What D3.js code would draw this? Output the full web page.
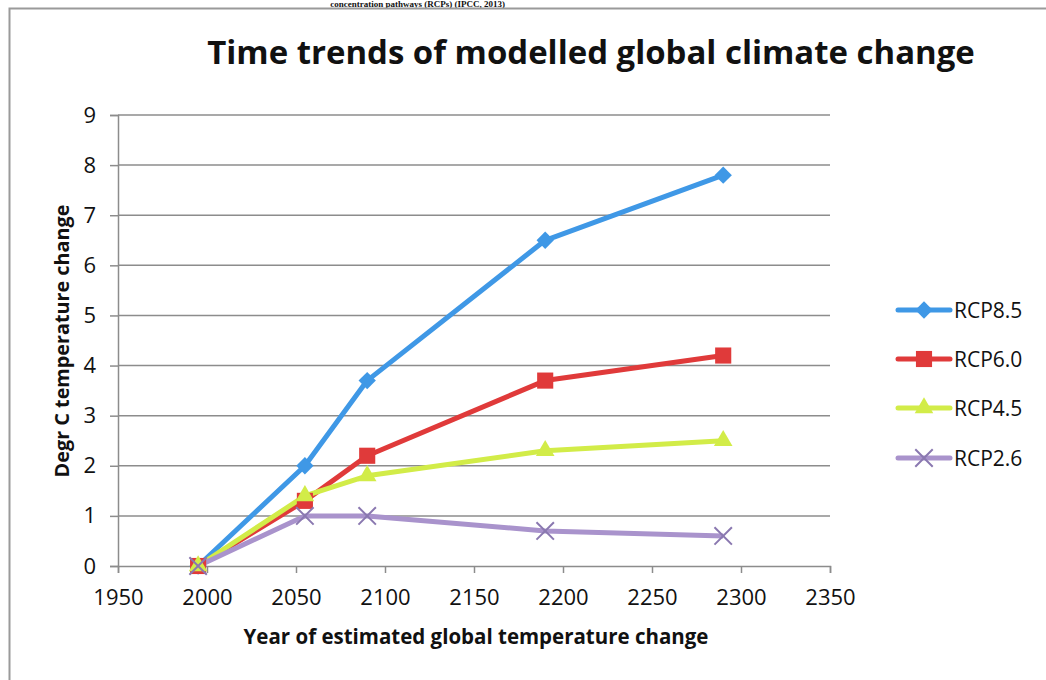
<!DOCTYPE html>
<html><head><meta charset="utf-8">
<script src="https://cdn.jsdelivr.net/npm/d3@7"></script>
<style>body{margin:0;background:#fff}svg{display:block}</style>
</head><body>
<svg id="c" width="1046" height="680"></svg>
<script>
const years = [1995, 2055, 2090, 2190, 2290];
const rcp85 = [0, 2.0, 3.7, 6.5, 7.8];
const rcp60 = [0, 1.3, 2.2, 3.7, 4.2];
const rcp45 = [0, 1.4, 1.8, 2.3, 2.5];
const rcp26 = [0, 1.0, 1.0, 0.7, 0.6];
const seriesNames = ["RCP8.5", "RCP6.0", "RCP4.5", "RCP2.6"];
const xTicks = [1950, 2000, 2050, 2100, 2150, 2200, 2250, 2300, 2350];
const yTicks = [0, 1, 2, 3, 4, 5, 6, 7, 8, 9];
const titleText = "Time trends of modelled global climate change";
const xLabel = "Year of estimated global temperature change";
const yLabel = "Degr C temperature change";
const headerText = "concentration pathways (RCPs) (IPCC, 2013)";

const series = [
  {name: seriesNames[0], values: rcp85, color: "#3f98e6", marker: "diamond"},
  {name: seriesNames[1], values: rcp60, color: "#e03a3a", marker: "square"},
  {name: seriesNames[2], values: rcp45, color: "#d2ec48", marker: "triangle"},
  {name: seriesNames[3], values: rcp26, color: "#a993cc", marker: "x"}
];

const svg = d3.select("#c");
const font = "Open Sans, Lato, sans-serif";

// header text from page above (kept small so it stays inside the picture)
svg.append("text").attr("x", 505).attr("y", 7).attr("text-anchor", "end")
  .attr("font-family", "Liberation Serif, serif").attr("font-weight", "bold")
  .attr("font-size", 9).attr("fill", "#111").text(headerText);

// chart frame
svg.append("path").attr("d", "M9.5,690 V8.5 H1060").attr("fill", "none")
  .attr("stroke", "#9a9a9a").attr("stroke-width", 2);

const x = d3.scaleLinear().domain([1950, 2350]).range([118, 830]);
const y = d3.scaleLinear().domain([0, 9]).range([566, 115]);

// gridlines
svg.append("g").selectAll("line").data(yTicks.filter(d => d > 0)).join("line")
  .attr("x1", x(1950)).attr("x2", x(2350))
  .attr("y1", d => y(d)).attr("y2", d => y(d))
  .attr("stroke", "#8c8c8c").attr("stroke-width", 1.5);

// axes
const yAxis = d3.axisLeft(y).tickValues(yTicks).tickSize(8).tickPadding(14);
const gy = svg.append("g").attr("transform", `translate(${x(1950)},0)`).call(yAxis);
const xAxis = d3.axisBottom(x).tickValues(xTicks).tickFormat(d3.format("d")).tickSize(7).tickPadding(16);
const gx = svg.append("g").attr("transform", `translate(0,${y(0)})`).call(xAxis);
[gx, gy].forEach(g => {
  g.select(".domain").attr("stroke", "#8c8c8c").attr("stroke-width", 1.5);
  g.selectAll(".tick line").attr("stroke", "#8c8c8c").attr("stroke-width", 1.5);
  g.selectAll("text").attr("font-family", font).attr("font-size", 22).attr("fill", "#111");
});

// series lines
const line = d3.line().x((d, i) => x(years[i])).y(d => y(d));
const markerPath = {
  diamond: d3.symbol().type(d3.symbolSquare).size(150)(),
  square: d3.symbol().type(d3.symbolSquare).size(260)(),
  triangle: d3.symbol().type(d3.symbolTriangle).size(150)(),
  x: d3.symbol().type(d3.symbolTimes).size(200)()
};
function drawMarker(g, s, px, py) {
  const rot = s.marker === "diamond" ? " rotate(45)" : "";
  const m = g.append("path").attr("d", markerPath[s.marker])
    .attr("transform", `translate(${px},${py})${rot}`);
  if (s.marker === "x") m.attr("fill", "none").attr("stroke", "#8a78b0").attr("stroke-width", 2);
  else m.attr("fill", s.color);
}
series.forEach(s => {
  svg.append("path").datum(s.values).attr("d", line).attr("fill", "none")
    .attr("stroke", s.color).attr("stroke-width", 5).attr("stroke-linejoin", "round");
});
series.forEach(s => {
  const g = svg.append("g");
  s.values.forEach((v, i) => drawMarker(g, s, x(years[i]), y(v)));
});

// title
const t = svg.append("text").attr("x", 591).attr("y", 64).attr("text-anchor", "middle")
  .attr("font-family", font).attr("font-weight", "bold").attr("font-size", 30)
  .attr("fill", "#111").text(titleText);
const tw = t.node().getComputedTextLength();
t.attr("font-size", 30 * 768 / tw);

// axis titles
const xl = svg.append("text").attr("x", 476).attr("y", 644).attr("text-anchor", "middle")
  .attr("font-family", font).attr("font-weight", "bold").attr("font-size", 18)
  .attr("fill", "#111").text(xLabel);
xl.attr("font-size", 18 * 465 / xl.node().getComputedTextLength());
const yl = svg.append("text").attr("transform", "translate(69,341) rotate(-90)")
  .attr("text-anchor", "middle")
  .attr("font-family", font).attr("font-weight", "bold").attr("font-size", 18)
  .attr("fill", "#111").text(yLabel);
yl.attr("font-size", 18 * 273 / yl.node().getComputedTextLength());

// legend
const legY = [310, 359, 408, 458];
series.forEach((s, i) => {
  const g = svg.append("g");
  g.append("line").attr("x1", 898).attr("x2", 950).attr("y1", legY[i]).attr("y2", legY[i])
    .attr("stroke", s.color).attr("stroke-width", 5).attr("stroke-linecap", "round");
  drawMarker(g, s, 924, legY[i]);
  g.append("text").attr("x", 954).attr("y", legY[i] + 8).attr("font-family", font)
    .attr("font-size", 21).attr("fill", "#111").text(s.name);
});
</script>
</body></html>
